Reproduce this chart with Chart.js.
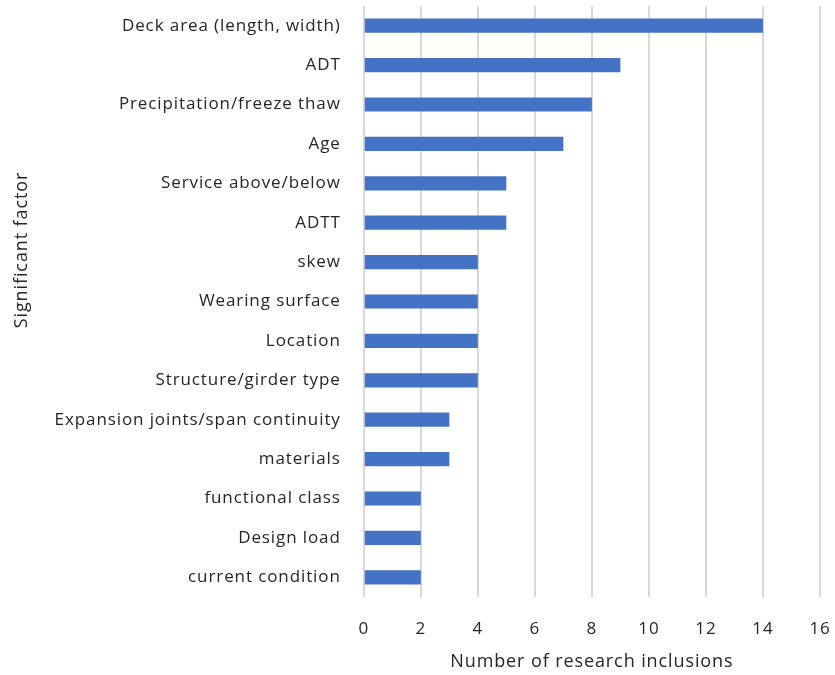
<!DOCTYPE html>
<html>
<head>
<meta charset="utf-8">
<script src="https://cdn.jsdelivr.net/npm/chart.js@4.4.0/dist/chart.umd.min.js"></script>
<style>
  html, body { margin: 0; padding: 0; background: #fff; }
  #wrap { width: 835px; height: 675px; }
</style>
</head>
<body>
<div id="wrap"><canvas id="factorsChart"></canvas></div>
<script>
// Factors and how many studies included each one
const factors = [
  'Deck area (length, width)', 'ADT', 'Precipitation/freeze thaw', 'Age',
  'Service above/below', 'ADTT', 'skew', 'Wearing surface', 'Location',
  'Structure/girder type', 'Expansion joints/span continuity', 'materials',
  'functional class', 'Design load', 'current condition'
];
const inclusions = [14, 9, 8, 7, 5, 5, 4, 4, 4, 4, 3, 3, 2, 2, 2];
const xTicks = [0, 2, 4, 6, 8, 10, 12, 14, 16];

const textColor = '#262626';
const fontFamily = '"Open Sans", sans-serif';
const yTitle = 'Significant factor';

// canvas resets letterSpacing whenever it is resized, so set it before layout and draw
const spacing = {
  id: 'spacing',
  beforeLayout: chart => { chart.ctx.letterSpacing = '0.9px'; },
  beforeDraw: chart => { chart.ctx.letterSpacing = '0.9px'; }
};

// y title drawn by hand so it can sit a little above the middle of the axis
const yTitlePlugin = {
  id: 'yTitlePlugin',
  afterDraw: chart => {
    const c = chart.ctx;
    c.save();
    c.letterSpacing = '0.9px';
    c.translate(22, 250);
    c.rotate(-Math.PI / 2);
    c.fillStyle = textColor;
    c.font = '18px ' + fontFamily;
    c.textAlign = 'center';
    c.textBaseline = 'middle';
    c.fillText(yTitle, 0, 0);
    c.restore();
  }
};

const ctx = document.getElementById('factorsChart').getContext('2d');
new Chart(ctx, {
  type: 'bar',
  data: {
    labels: factors,
    datasets: [{
      label: 'Number of research inclusions',
      data: inclusions,
      backgroundColor: '#4472C4',
      categoryPercentage: 1,
      barPercentage: 0.36
    }]
  },
  options: {
    indexAxis: 'y',
    responsive: true,
    maintainAspectRatio: false,
    animation: false,
    layout: { padding: { top: 6, right: 15, bottom: 0, left: 29 } },
    scales: {
      x: {
        min: xTicks[0],
        max: xTicks[xTicks.length - 1],
        afterBuildTicks: axis => { axis.ticks = xTicks.map(v => ({ value: v })); },
        // keep the tick padding from widening the right margin
        afterFit: axis => { axis.paddingRight = 10; },
        grid: { color: '#d9d9d9', lineWidth: 2, drawTicks: false },
        border: { display: false },
        ticks: { color: textColor, padding: 22, font: { family: fontFamily, size: 17 } },
        title: {
          display: true,
          text: 'Number of research inclusions',
          color: textColor,
          padding: { top: -10, bottom: 2 },
          font: { family: fontFamily, size: 18 }
        }
      },
      y: {
        afterFit: axis => { axis.paddingTop = 0; },
        grid: { display: false, drawTicks: true, tickLength: 23 },
        border: { display: false },
        ticks: { color: textColor, padding: 0, font: { family: fontFamily, size: 17 } },
        title: {
          display: true,
          text: yTitle,
          color: 'rgba(0,0,0,0)',
          padding: { top: 0, bottom: 4 },
          font: { family: fontFamily, size: 18 }
        }
      }
    },
    plugins: {
      legend: { display: false },
      tooltip: { enabled: false }
    }
  },
  plugins: [spacing, yTitlePlugin]
});
</script>
</body>
</html>
